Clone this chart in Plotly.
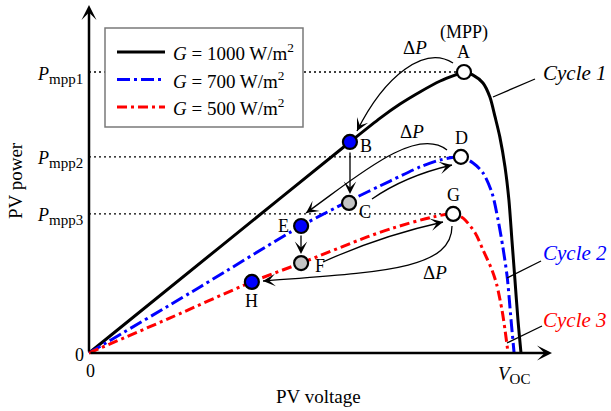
import plotly.graph_objects as go

# ---------------- data (normalised: V / V_OC, P / P_mpp1) ----------------
v_g1000 = [0, 0.303, 0.604, 0.674, 0.720, 0.766, 0.813, 0.847, 0.868, 0.889, 0.912,
           0.928, 0.940, 0.951, 0.963, 0.972, 0.979, 0.986, 0.993, 1.0]
p_g1000 = [0, 0.377, 0.751, 0.836, 0.886, 0.929, 0.968, 0.989, 1.0, 0.989, 0.961,
           0.911, 0.840, 0.769, 0.662, 0.545, 0.402, 0.260, 0.117, 0]

v_g700 = [0, 0.257, 0.491, 0.602, 0.697, 0.766, 0.813, 0.861, 0.889, 0.912, 0.933,
          0.947, 0.958, 0.968, 0.977, 0.984]
p_g700 = [0, 0.235, 0.452, 0.541, 0.612, 0.662, 0.687, 0.698, 0.676, 0.641, 0.569,
          0.473, 0.377, 0.271, 0.117, 0]

v_g500 = [0, 0.188, 0.377, 0.491, 0.644, 0.704, 0.796, 0.843, 0.866, 0.894, 0.912,
          0.933, 0.944, 0.956, 0.963, 0.970]
p_g500 = [0, 0.125, 0.253, 0.320, 0.413, 0.445, 0.484, 0.495, 0.480, 0.427, 0.367,
          0.295, 0.242, 0.153, 0.082, 0]

pt_names = ["A", "B", "C", "D", "E", "F", "G", "H"]
pt_v = [0.868, 0.604, 0.602, 0.861, 0.491, 0.491, 0.843, 0.377]
pt_p = [1.0, 0.751, 0.534, 0.698, 0.452, 0.320, 0.495, 0.253]
pt_fill = ["white", "blue", "#c4c4c4", "white", "blue", "#c4c4c4", "white", "blue"]

series_names = ["<i>G</i> = 1000 W/m<sup>2</sup>",
                "<i>G</i> = 700 W/m<sup>2</sup>",
                "<i>G</i> = 500 W/m<sup>2</sup>"]
pmpp_labels = ["mpp1", "mpp2", "mpp3"]
pmpp_values = [pt_p[0], pt_p[3], pt_p[6]]
pmpp_v = [pt_v[0], pt_v[3], pt_v[6]]
cycle_labels = ["Cycle 1", "Cycle 2", "Cycle 3"]

# ---------------- layout helpers (pixel -> axis units) ----------------
W, H = 611, 411
OX, OY = 89, 353
SX, SY = 432, 281


def X(px):
    return (px - OX) / SX


def Y(py):
    return (OY - py) / SY


FONT = "Liberation Serif, Times New Roman, serif"
colors = ["black", "blue", "red"]
dashes = ["solid", "13px,4px,3px,4px", "10px,4px,3px,4px"]

fig = go.Figure()
for v, p, name, c, d in zip([v_g1000, v_g700, v_g500], [p_g1000, p_g700, p_g500],
                            series_names, colors, dashes):
    fig.add_trace(go.Scatter(x=v, y=p, mode="lines", name=name, showlegend=False,
                             line=dict(color=c, width=3, dash=d, shape="spline", smoothing=0.8),
                             hoverinfo="skip"))

fig.add_trace(go.Scatter(x=pt_v, y=pt_p, mode="markers", showlegend=False,
                         marker=dict(size=14, color=pt_fill, line=dict(color="black", width=2.2)),
                         hoverinfo="skip"))

shapes = []
ann = []

# dotted P_mpp guide lines
for pv, pp in zip(pmpp_v, pmpp_values):
    shapes.append(dict(type="line", xref="x", yref="y", x0=0, x1=pv, y0=pp, y1=pp,
                       line=dict(color="black", width=1.3, dash="2px,3px"), layer="below"))

# axes with arrows
ann.append(dict(x=X(552), y=0, ax=0, ay=0, axref="x", ayref="y", xref="x", yref="y",
                text="", showarrow=True, arrowhead=3, arrowsize=1.0, arrowwidth=2.5,
                arrowcolor="black", standoff=0))
ann.append(dict(x=0, y=Y(5), ax=0, ay=0, axref="x", ayref="y", xref="x", yref="y",
                text="", showarrow=True, arrowhead=3, arrowsize=1.0, arrowwidth=2.5,
                arrowcolor="black", standoff=0))


def txt(x, y, s, size=18, color="black", xanchor="center", **kw):
    d = dict(x=x, y=y, xref="x", yref="y", text=s, showarrow=False, xanchor=xanchor,
             yanchor="middle", font=dict(family=FONT, size=size, color=color))
    d.update(kw)
    return d


# tick-like labels
for lab, val in zip(pmpp_labels, pmpp_values):
    ann.append(txt(X(85), val, f"<i>P</i><sub><span style='font-size:15px'>{lab}</span></sub>",
                   size=18, xanchor="right", yshift=-3))
ann.append(txt(X(79), Y(355), "0", size=18))
ann.append(txt(X(90), Y(371), "0", size=18))
ann.append(txt(X(514), Y(375), "<i>V</i><sub><span style='font-size:15px'>OC</span></sub>", size=19))

# axis titles
ann.append(txt(X(15), Y(181), "PV power", size=19, textangle=-90))
ann.append(txt(X(318), Y(396), "PV voltage", size=19))

# point labels
label_shift = {"A": (0, 20), "B": (16, -4), "C": (16, -9), "D": (1, 19),
               "E": (-18, 0), "F": (19, -3), "G": (0, 19), "H": (0, -19)}
for n, v, p in zip(pt_names, pt_v, pt_p):
    dx, dy = label_shift[n]
    ann.append(txt(v, p, n, size=18, xshift=dx, yshift=dy))
ann.append(txt(pt_v[0], pt_p[0], "(MPP)", size=18, yshift=40))

# delta P labels
ann.append(txt(X(415), Y(47), "Δ<i>P</i>", size=19))
ann.append(txt(X(412), Y(131), "Δ<i>P</i>", size=19))
ann.append(txt(X(435), Y(272), "Δ<i>P</i>", size=19))


def P(px, py):
    return f"{X(px)},{Y(py)}"


def curved_arrow(start, c1, c2, end):
    shapes.append(dict(type="path", xref="x", yref="y",
                       path=f"M {P(*start)} C {P(*c1)} {P(*c2)} {P(*end)}",
                       line=dict(color="black", width=1.3)))
    dx, dy = c2[0] - end[0], c2[1] - end[1]
    L = (dx * dx + dy * dy) ** 0.5
    ann.append(dict(x=X(end[0]), y=Y(end[1]), xref="x", yref="y", ax=dx / L * 6, ay=dy / L * 6,
                    text="", showarrow=True, arrowhead=3, arrowsize=1.6, arrowwidth=1.3,
                    arrowcolor="black", standoff=0))


def quad_arrow(start, c, end):
    shapes.append(dict(type="path", xref="x", yref="y",
                       path=f"M {P(*start)} Q {P(*c)} {P(*end)}",
                       line=dict(color="black", width=1.3)))
    dx, dy = c[0] - end[0], c[1] - end[1]
    L = (dx * dx + dy * dy) ** 0.5
    ann.append(dict(x=X(end[0]), y=Y(end[1]), xref="x", yref="y", ax=dx / L * 6, ay=dy / L * 6,
                    text="", showarrow=True, arrowhead=3, arrowsize=1.6, arrowwidth=1.3,
                    arrowcolor="black", standoff=0))


def straight_arrow(start, end):
    ann.append(dict(x=X(end[0]), y=Y(end[1]), ax=X(start[0]), ay=Y(start[1]),
                    xref="x", yref="y", axref="x", ayref="y",
                    text="", showarrow=True, arrowhead=3, arrowsize=1.6, arrowwidth=1.3,
                    arrowcolor="black", standoff=0))


curved_arrow((453, 63), (425, 45), (385, 75), (357, 131))   # A -> B
curved_arrow((447, 150), (415, 125), (354, 179), (306, 213))  # D -> E
curved_arrow((452, 226), (452, 270), (380, 272), (263, 281))  # G -> H
quad_arrow((372, 199), (405, 176), (452, 165))               # C -> D
quad_arrow((323, 262), (380, 236), (443, 222))               # F -> G
straight_arrow((350, 151), (350, 194))                      # B -> C
straight_arrow((301, 234), (301, 254))                      # E -> F

# cycle labels with leader lines
cyc_pos = [(575, 73), (575, 253), (575, 320)]
leaders = [((493, 97), (535, 79)), ((507, 278), (541, 261)), ((507, 343), (542, 326))]
for lab, c, (cx, cy), (a, b) in zip(cycle_labels, colors, cyc_pos, leaders):
    ann.append(txt(X(cx), Y(cy), f"<i>{lab}</i>", size=21, color=c))
    shapes.append(dict(type="line", xref="x", yref="y", x0=X(a[0]), y0=Y(a[1]),
                       x1=X(b[0]), y1=Y(b[1]), line=dict(color="black", width=1.3)))

# legend (drawn)
shapes.append(dict(type="rect", xref="x", yref="y", x0=X(105), x1=X(303), y0=Y(28), y1=Y(127),
                   line=dict(color="#7a7a7a", width=1.5), fillcolor="white"))
for i, (name, c, d) in enumerate(zip(series_names, colors, dashes)):
    yy = 52 + i * 27.5
    shapes.append(dict(type="line", xref="x", yref="y", x0=X(117), x1=X(165), y0=Y(yy), y1=Y(yy),
                       line=dict(color=c, width=3, dash=d)))
    ann.append(txt(X(171), Y(yy), name, size=19, xanchor="left"))

fig.update_layout(
    width=W, height=H, margin=dict(l=0, r=0, t=0, b=0),
    paper_bgcolor="white", plot_bgcolor="white",
    xaxis=dict(range=[X(0), X(W)], visible=False, fixedrange=True),
    yaxis=dict(range=[Y(H), Y(0)], visible=False, fixedrange=True),
    shapes=shapes, annotations=ann, showlegend=False,
)

fig.write_html("out.html")
